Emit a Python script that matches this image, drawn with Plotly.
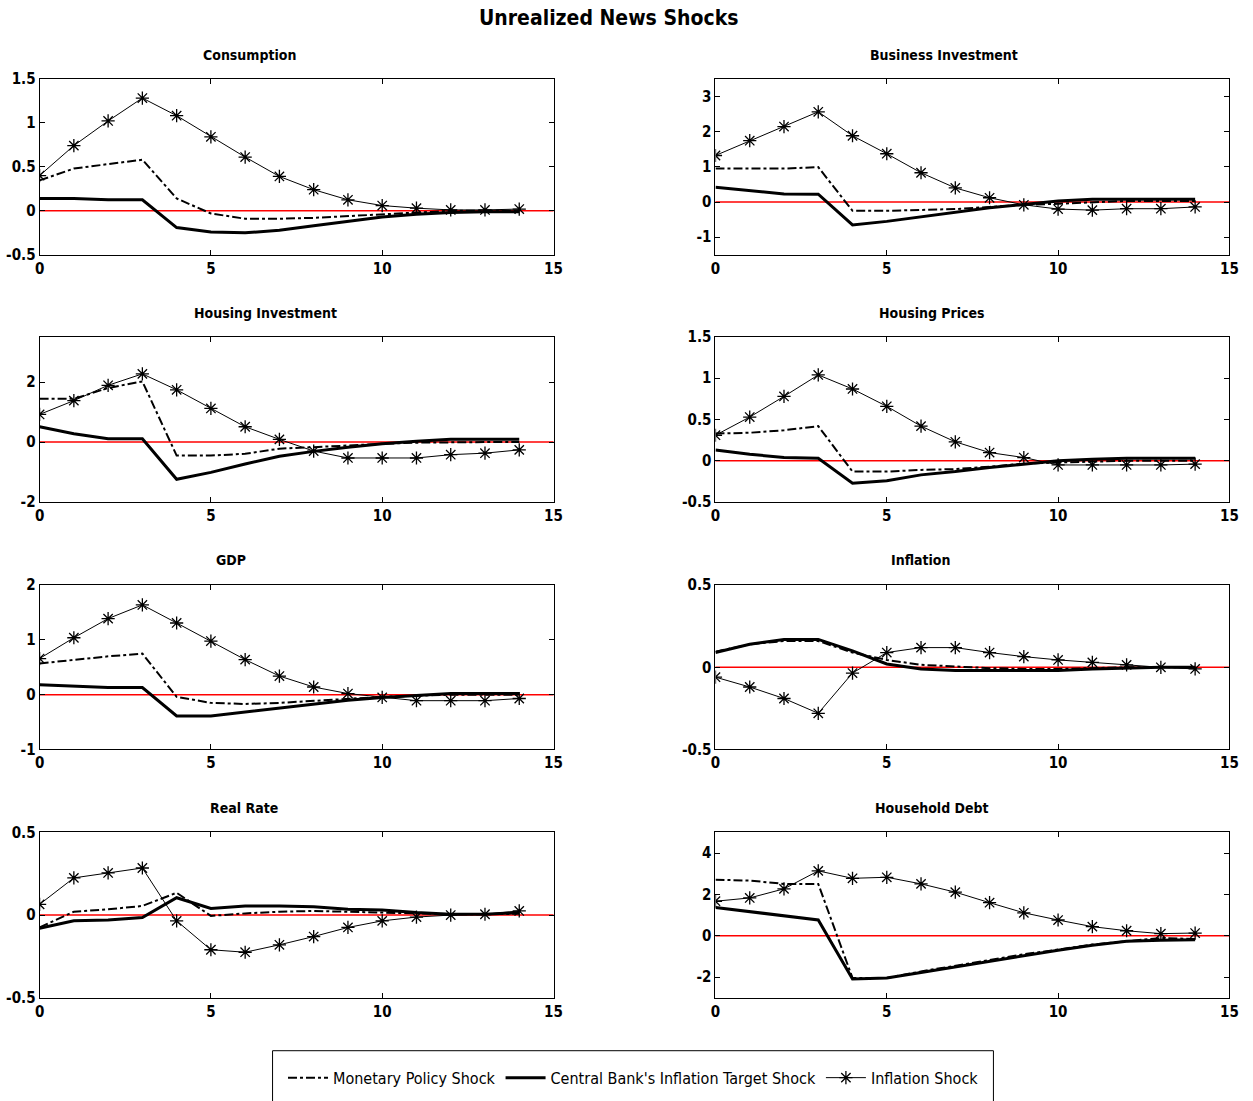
import plotly.graph_objects as go
from plotly.subplots import make_subplots

# ---------------- data ----------------
periods = list(range(15))
panel_titles = ["Consumption", "Business Investment", "Housing Investment", "Housing Prices",
                "GDP", "Inflation", "Real Rate", "Household Debt"]
series_names = ["Monetary Policy Shock", "Central Bank's Inflation Target Shock", "Inflation Shock"]

consumption_mp = [0.345, 0.48, 0.53, 0.58, 0.14, -0.03, -0.09, -0.09, -0.08, -0.06, -0.035, -0.015, 0.0, 0.0, 0.0]
consumption_tg = [0.14, 0.14, 0.125, 0.125, -0.19, -0.24, -0.25, -0.22, -0.17, -0.12, -0.07, -0.04, -0.02, -0.01, -0.01]
consumption_inf = [0.40, 0.74, 1.02, 1.28, 1.08, 0.84, 0.61, 0.39, 0.24, 0.125, 0.06, 0.03, 0.01, 0.01, 0.02]

businv_mp = [0.95, 0.95, 0.95, 0.99, -0.25, -0.25, -0.23, -0.20, -0.14, -0.08, -0.05, 0.0, 0.03, 0.03, 0.03]
businv_tg = [0.42, 0.33, 0.23, 0.22, -0.65, -0.55, -0.42, -0.27, -0.16, -0.07, 0.03, 0.08, 0.08, 0.08, 0.08]
businv_inf = [1.32, 1.74, 2.14, 2.56, 1.88, 1.37, 0.83, 0.40, 0.12, -0.08, -0.20, -0.23, -0.19, -0.19, -0.14]

housinv_mp = [1.44, 1.44, 1.80, 2.02, -0.45, -0.45, -0.39, -0.22, -0.17, -0.11, -0.06, -0.02, 0.0, 0.0, 0.0]
housinv_tg = [0.51, 0.28, 0.11, 0.11, -1.24, -1.01, -0.73, -0.47, -0.31, -0.17, -0.06, 0.03, 0.09, 0.09, 0.09]
housinv_inf = [0.92, 1.38, 1.89, 2.27, 1.74, 1.12, 0.51, 0.09, -0.30, -0.53, -0.53, -0.53, -0.42, -0.37, -0.26]

hprice_mp = [0.33, 0.34, 0.37, 0.42, -0.13, -0.13, -0.11, -0.10, -0.07, -0.035, -0.02, -0.01, 0.0, 0.0, 0.0]
hprice_tg = [0.13, 0.08, 0.04, 0.03, -0.27, -0.24, -0.17, -0.13, -0.08, -0.04, 0.0, 0.02, 0.03, 0.03, 0.03]
hprice_inf = [0.31, 0.53, 0.78, 1.04, 0.87, 0.66, 0.42, 0.23, 0.10, 0.04, -0.05, -0.05, -0.05, -0.05, -0.04]

gdp_mp = [0.57, 0.64, 0.70, 0.75, -0.04, -0.15, -0.17, -0.15, -0.11, -0.07, -0.04, -0.02, 0.0, 0.0, 0.0]
gdp_tg = [0.18, 0.16, 0.13, 0.13, -0.39, -0.39, -0.32, -0.24, -0.17, -0.10, -0.05, -0.02, 0.02, 0.02, 0.02]
gdp_inf = [0.66, 1.04, 1.39, 1.64, 1.31, 0.98, 0.64, 0.34, 0.14, 0.02, -0.05, -0.11, -0.11, -0.11, -0.07]

infl_mp = [0.095, 0.14, 0.16, 0.16, 0.09, 0.045, 0.015, 0.005, -0.005, -0.01, -0.01, -0.005, 0.0, 0.0, 0.0]
infl_tg = [0.09, 0.14, 0.17, 0.17, 0.10, 0.02, -0.01, -0.02, -0.02, -0.02, -0.02, -0.01, -0.005, 0.0, 0.0]
infl_inf = [-0.06, -0.12, -0.19, -0.28, -0.035, 0.09, 0.12, 0.12, 0.09, 0.065, 0.045, 0.03, 0.015, 0.0, -0.01]

rrate_mp = [-0.075, 0.02, 0.035, 0.055, 0.135, -0.005, 0.01, 0.02, 0.025, 0.02, 0.015, 0.01, 0.005, 0.005, 0.008]
rrate_tg = [-0.08, -0.035, -0.03, -0.015, 0.105, 0.04, 0.055, 0.055, 0.05, 0.035, 0.03, 0.015, 0.005, 0.005, 0.015]
rrate_inf = [0.065, 0.225, 0.255, 0.285, -0.035, -0.21, -0.225, -0.18, -0.13, -0.075, -0.035, -0.012, 0.0, 0.005, 0.025]

hdebt_mp = [2.71, 2.67, 2.51, 2.51, -2.05, -2.05, -1.73, -1.46, -1.17, -0.90, -0.67, -0.43, -0.27, -0.11, -0.16]
hdebt_tg = [1.37, 1.16, 0.97, 0.76, -2.10, -2.05, -1.78, -1.51, -1.22, -0.95, -0.70, -0.46, -0.27, -0.22, -0.19]
hdebt_inf = [1.67, 1.83, 2.27, 3.14, 2.78, 2.83, 2.51, 2.11, 1.60, 1.11, 0.76, 0.44, 0.24, 0.10, 0.13]

panel_series = [
    (consumption_mp, consumption_tg, consumption_inf),
    (businv_mp, businv_tg, businv_inf),
    (housinv_mp, housinv_tg, housinv_inf),
    (hprice_mp, hprice_tg, hprice_inf),
    (gdp_mp, gdp_tg, gdp_inf),
    (infl_mp, infl_tg, infl_inf),
    (rrate_mp, rrate_tg, rrate_inf),
    (hdebt_mp, hdebt_tg, hdebt_inf),
]

y_ranges = [[-0.5, 1.5], [-1.5, 3.5], [-2, 3.5], [-0.5, 1.5], [-1, 2], [-0.5, 0.5], [-0.5, 0.5], [-3, 5]]
y_tickvals = [[-0.5, 0, 0.5, 1, 1.5], [-1, 0, 1, 2, 3], [-2, 0, 2], [-0.5, 0, 0.5, 1, 1.5],
              [-1, 0, 1, 2], [-0.5, 0, 0.5], [-0.5, 0, 0.5], [-2, 0, 2, 4]]
y_ticktext = [["-0.5", "0", "0.5", "1", "1.5"], ["-1", "0", "1", "2", "3"], ["-2", "0", "2"],
              ["-0.5", "0", "0.5", "1", "1.5"], ["-1", "0", "1", "2"], ["-0.5", "0", "0.5"],
              ["-0.5", "0", "0.5"], ["-2", "0", "2", "4"]]
x_tickvals = [0, 5, 10, 15]
x_range = [0, 15]

# ---------------- layout geometry (target pixels, mapped to paper) ----------------
W, H = 1253, 1101


def fx(p):
    return ((p - 4.4) / 0.989) / W


def fy(p):
    return 1 - ((p - 9.4) / 0.9826) / H


col_px = [(39, 553), (715, 1229)]
row_px = [(79, 255), (337, 502), (585, 749), (832, 997)]
title_px = [(249, 55), (944, 55), (265, 313), (932, 313), (230, 560), (920, 560), (243, 808), (932, 808)]

FONT = "DejaVu Sans Condensed, Liberation Sans Narrow, Arial Narrow, Roboto, sans-serif"

fig = make_subplots(rows=4, cols=2)

styles = [
    dict(mode="lines", line=dict(color="black", width=2, dash="dashdot")),
    dict(mode="lines", line=dict(color="black", width=3)),
    dict(mode="lines+markers", line=dict(color="black", width=1),
         marker=dict(symbol="asterisk-open", size=11, color="black", line=dict(color="black", width=1.3))),
]

for i, series in enumerate(panel_series):
    r, c = i // 2 + 1, i % 2 + 1
    for j, ys in enumerate(series):
        fig.add_trace(go.Scatter(x=periods, y=ys, name=series_names[j], showlegend=(i == 0),
                                 **styles[j]), row=r, col=c)
    fig.add_hline(y=0, line=dict(color="red", width=1.5), row=r, col=c, layer="below")

tick_font = dict(family=FONT, size=15, color="black", weight="bold")
for i in range(8):
    r, c = i // 2, i % 2
    xa = "xaxis" if i == 0 else f"xaxis{i+1}"
    ya = "yaxis" if i == 0 else f"yaxis{i+1}"
    x0, x1 = col_px[c]
    y0, y1 = row_px[r]
    fig.layout[xa].update(domain=[fx(x0), fx(x1)], range=x_range, tickvals=x_tickvals,
                          showline=True, linecolor="black", linewidth=1, mirror="ticks",
                          ticks="inside", ticklen=5, tickcolor="black", showgrid=False, zeroline=False,
                          tickfont=tick_font)
    fig.layout[ya].update(domain=[fy(y1), fy(y0)], range=y_ranges[i],
                          tickvals=y_tickvals[i], ticktext=y_ticktext[i],
                          showline=True, linecolor="black", linewidth=1, mirror="ticks",
                          ticks="inside", ticklen=5, tickcolor="black", showgrid=False, zeroline=False,
                          tickfont=tick_font)
    tx, ty = title_px[i]
    fig.add_annotation(x=fx(tx), y=fy(ty), xref="paper", yref="paper", text=panel_titles[i],
                       showarrow=False, xanchor="center", yanchor="middle",
                       font=dict(family=FONT, size=14, color="black", weight="bold"))

fig.add_annotation(x=fx(608), y=fy(18), xref="paper", yref="paper", text="Unrealized News Shocks",
                   showarrow=False, xanchor="center", yanchor="middle",
                   font=dict(family=FONT, size=21, color="black", weight="bold"))

# legend frame
fig.add_shape(type="rect", xref="paper", yref="paper", x0=fx(272), x1=fx(993), y0=fy(1101), y1=fy(1050),
              line=dict(color="black", width=1), fillcolor="rgba(0,0,0,0)")

fig.update_layout(
    width=W, height=H, margin=dict(l=0, r=0, t=0, b=0),
    paper_bgcolor="white", plot_bgcolor="white",
    legend=dict(orientation="h", x=fx(633), y=fy(1077), xanchor="center", yanchor="middle",
                borderwidth=0, bgcolor="rgba(0,0,0,0)",
                font=dict(family=FONT, size=16, color="black"), itemwidth=40),
)

fig.write_html("out.html", config={"displayModeBar": False},
               post_script="document.body.style.margin='0';document.body.style.overflow='hidden';")
